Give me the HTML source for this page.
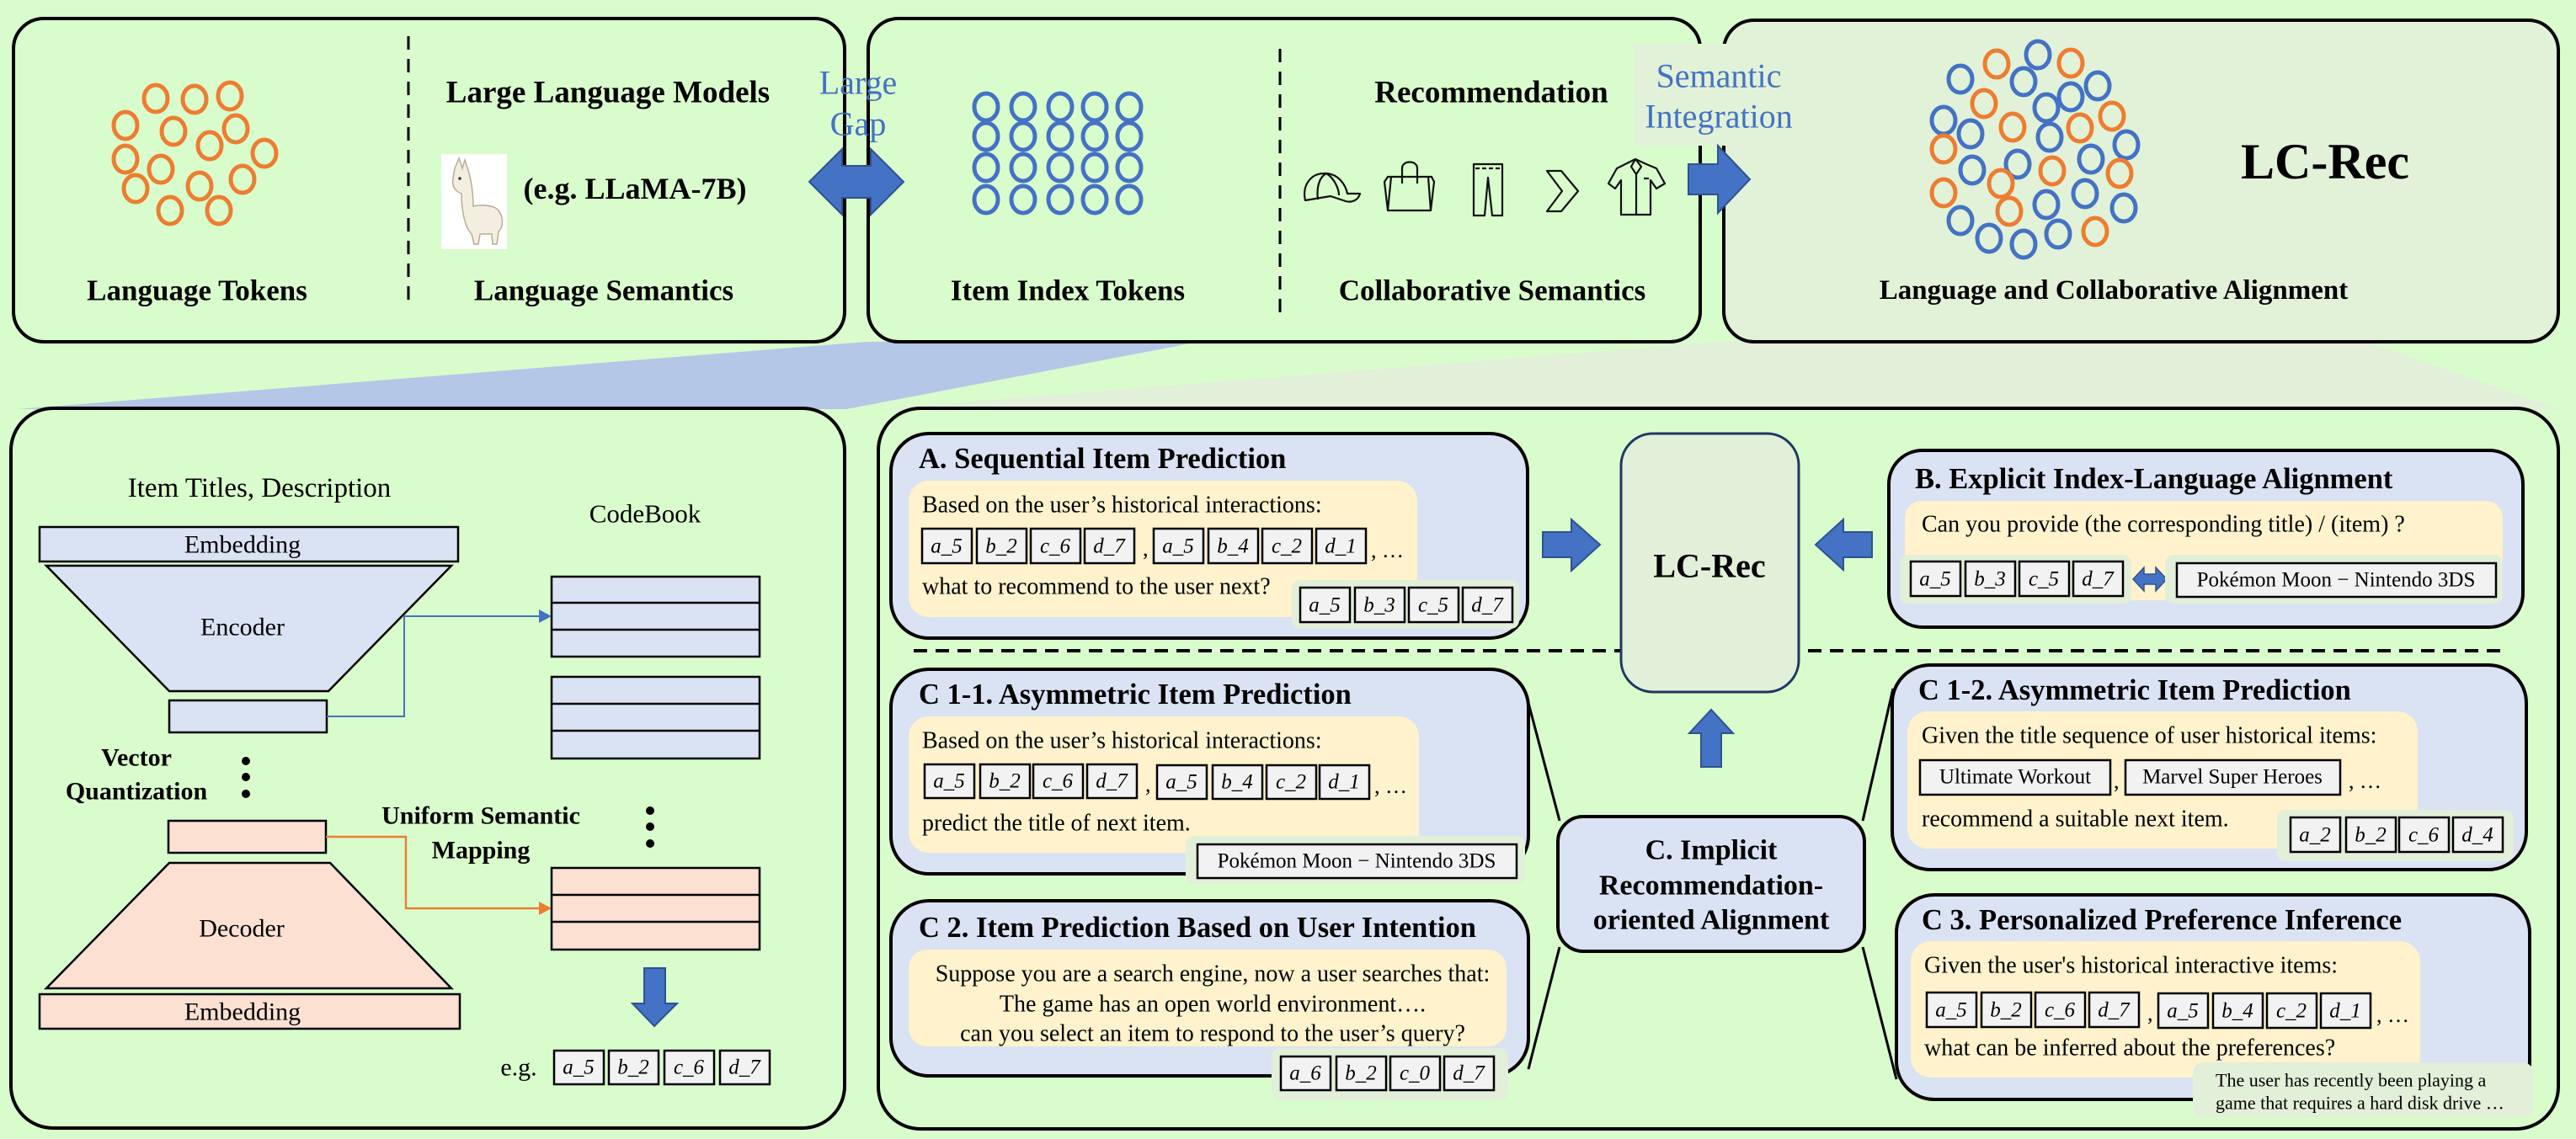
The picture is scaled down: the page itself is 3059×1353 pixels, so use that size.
<!DOCTYPE html>
<html><head><meta charset="utf-8"><style>
html,body{margin:0;padding:0;background:#d9fccc;}
svg{display:block;}
text{font-family:"Liberation Serif",serif;}
.b{font-weight:bold;}
.t{font-style:italic;font-size:25px;}
.tk{fill:#f2f2f2;stroke:#000;stroke-width:2.5;}
.or{fill:none;stroke:#ed7d31;stroke-width:5;}
.bl{fill:none;stroke:#4472c4;stroke-width:5;}
.ic{fill:none;stroke:#111;stroke-width:2.2;stroke-linejoin:round;}
</style></head><body>
<svg width="3059" height="1353" viewBox="0 0 3059 1353" xmlns="http://www.w3.org/2000/svg">
<rect width="3059" height="1353" fill="#d9fccc"/>

<polygon points="1030,406 1424,406 1005,486 20,486" fill="#b4c7e7"/>
<polygon points="2045,406 2810,406 3040,486 1040,486" fill="#e2efd9"/>

<rect x="16" y="22" width="987" height="384" rx="36" fill="#d9fccc" stroke="#000" stroke-width="4"/>
<rect x="1031" y="22" width="988" height="384" rx="36" fill="#d9fccc" stroke="#000" stroke-width="4"/>
<rect x="2047" y="24" width="991" height="382" rx="36" fill="#e2f2d8" stroke="#000" stroke-width="4"/>
<line x1="485" y1="43" x2="485" y2="358" stroke="#000" stroke-width="3" stroke-dasharray="16,11"/>
<line x1="1520" y1="58" x2="1520" y2="372" stroke="#000" stroke-width="3" stroke-dasharray="16,11"/>

<g class="or">
<ellipse cx="185" cy="117" rx="14" ry="16"/><ellipse cx="231" cy="118" rx="14" ry="16"/><ellipse cx="273" cy="114" rx="14" ry="16"/>
<ellipse cx="149" cy="149" rx="14" ry="16"/><ellipse cx="206" cy="156" rx="14" ry="16"/><ellipse cx="280" cy="153" rx="14" ry="16"/>
<ellipse cx="249" cy="173" rx="14" ry="16"/><ellipse cx="314" cy="182" rx="14" ry="16"/>
<ellipse cx="149" cy="189" rx="14" ry="16"/><ellipse cx="191" cy="201" rx="14" ry="16"/><ellipse cx="288" cy="213" rx="14" ry="16"/>
<ellipse cx="161" cy="224" rx="14" ry="16"/><ellipse cx="237" cy="221" rx="14" ry="16"/>
<ellipse cx="202" cy="250" rx="14" ry="16"/><ellipse cx="260" cy="250" rx="14" ry="16"/>
</g>
<text x="234" y="345" class="b" font-size="35" text-anchor="middle" dominant-baseline="central">Language Tokens</text>
<text x="722" y="110" class="b" font-size="37" text-anchor="middle" dominant-baseline="central">Large Language Models</text>
<rect x="524" y="183" width="78" height="113" fill="#fff"/>
<path d="M540,200 L545,188 L549,200 L552,190 L556,202 C560,215 562,232 562,245 C575,242 588,245 592,250 C598,258 598,270 592,275 L590,290 L585,290 L584,278 L570,278 L568,290 L563,290 L560,278 C552,270 548,250 548,230 C542,228 536,222 538,212 Z" fill="#f4eee0" stroke="#b9ad96" stroke-width="1.5"/>
<circle cx="546" cy="212" r="1.8" fill="#333"/>
<text x="754" y="224" class="b" font-size="36" text-anchor="middle" dominant-baseline="central">(e.g. LLaMA-7B)</text>
<text x="717" y="345" class="b" font-size="35" text-anchor="middle" dominant-baseline="central">Language Semantics</text>

<text x="1019" y="98" font-size="40" fill="#4472c4" text-anchor="middle" dominant-baseline="central">Large</text>
<text x="1019" y="147" font-size="40" fill="#4472c4" text-anchor="middle" dominant-baseline="central">Gap</text>
<polygon points="961,216 1000,177 1000,197 1034,197 1034,177 1073,216 1034,255 1034,235 1000,235 1000,255" fill="#4472c4" stroke="#2f528f" stroke-width="2"/>

<g class="bl">
<ellipse cx="1171" cy="127" rx="14" ry="16"/><ellipse cx="1215" cy="127" rx="14" ry="16"/><ellipse cx="1259" cy="127" rx="14" ry="16"/><ellipse cx="1300" cy="127" rx="14" ry="16"/><ellipse cx="1341" cy="127" rx="14" ry="16"/>
<ellipse cx="1171" cy="162" rx="14" ry="16"/><ellipse cx="1215" cy="162" rx="14" ry="16"/><ellipse cx="1259" cy="162" rx="14" ry="16"/><ellipse cx="1300" cy="162" rx="14" ry="16"/><ellipse cx="1341" cy="162" rx="14" ry="16"/>
<ellipse cx="1171" cy="199" rx="14" ry="16"/><ellipse cx="1215" cy="199" rx="14" ry="16"/><ellipse cx="1259" cy="199" rx="14" ry="16"/><ellipse cx="1300" cy="199" rx="14" ry="16"/><ellipse cx="1341" cy="199" rx="14" ry="16"/>
<ellipse cx="1171" cy="237" rx="14" ry="16"/><ellipse cx="1215" cy="237" rx="14" ry="16"/><ellipse cx="1259" cy="237" rx="14" ry="16"/><ellipse cx="1300" cy="237" rx="14" ry="16"/><ellipse cx="1341" cy="237" rx="14" ry="16"/>
</g>
<text x="1268" y="345" class="b" font-size="35" text-anchor="middle" dominant-baseline="central">Item Index Tokens</text>
<text x="1771" y="110" class="b" font-size="37" text-anchor="middle" dominant-baseline="central">Recommendation</text>
<text x="1772" y="345" class="b" font-size="35" text-anchor="middle" dominant-baseline="central">Collaborative Semantics</text>
<g class="ic">
<path d="M1550,238 C1546,222 1555,205 1575,206 C1590,207 1598,220 1600,230 L1615,230 C1613,238 1605,241 1598,239 L1580,233 Z"/>
<path d="M1565,237 C1563,222 1567,210 1575,206 M1575,206 C1585,212 1590,225 1590,232"/>
<path d="M1648,210 L1700,210 L1703,216 L1699,250 L1648,250 L1644,216 Z M1665,218 L1665,200 C1665,190 1683,190 1683,200 L1683,218 M1652,210 L1648,250 M1696,210 L1699,250"/>
<path d="M1750,195 L1784,195 L1784,256 L1772,256 L1767,211 L1763,256 L1750,256 Z"/>
<line x1="1752" y1="200" x2="1782" y2="200" stroke-dasharray="5,3"/>
<path d="M1837,203 L1854,203 L1874,227 L1854,251 L1837,251 L1855,227 Z"/>
<path d="M1930,195 L1942,189 L1955,195 L1967,200 L1977,218 L1967,224 L1960,214 L1960,255 L1925,255 L1925,214 L1918,224 L1910,218 L1920,200 Z M1942,189 L1937,198 L1943,207 L1949,198 Z M1943,207 L1943,255 M1952,212 L1958,212"/>
</g>

<rect x="1940" y="52" width="222" height="121" fill="#e2f2d8"/>
<text x="2041" y="90" font-size="40" fill="#4472c4" text-anchor="middle" dominant-baseline="central">Semantic</text>
<text x="2041" y="138" font-size="40" fill="#4472c4" text-anchor="middle" dominant-baseline="central">Integration</text>
<polygon points="2005,195 2040,195 2040,173 2078,213 2040,253 2040,231 2005,231" fill="#4472c4" stroke="#2f528f" stroke-width="2"/>

<g class="bl">
<ellipse cx="2420" cy="65" rx="14" ry="16"/><ellipse cx="2328" cy="94" rx="14" ry="16"/><ellipse cx="2403" cy="97" rx="14" ry="16"/><ellipse cx="2491" cy="102" rx="14" ry="16"/>
<ellipse cx="2459" cy="115" rx="14" ry="16"/><ellipse cx="2430" cy="128" rx="14" ry="16"/><ellipse cx="2308" cy="143" rx="14" ry="16"/><ellipse cx="2340" cy="159" rx="14" ry="16"/>
<ellipse cx="2434" cy="163" rx="14" ry="16"/><ellipse cx="2525" cy="172" rx="14" ry="16"/><ellipse cx="2396" cy="195" rx="14" ry="16"/><ellipse cx="2483" cy="189" rx="14" ry="16"/>
<ellipse cx="2342" cy="202" rx="14" ry="16"/><ellipse cx="2476" cy="230" rx="14" ry="16"/><ellipse cx="2430" cy="243" rx="14" ry="16"/><ellipse cx="2522" cy="247" rx="14" ry="16"/>
<ellipse cx="2328" cy="262" rx="14" ry="16"/><ellipse cx="2444" cy="278" rx="14" ry="16"/><ellipse cx="2362" cy="283" rx="14" ry="16"/><ellipse cx="2403" cy="290" rx="14" ry="16"/>
</g>
<g class="or">
<ellipse cx="2371" cy="76" rx="14" ry="16"/><ellipse cx="2459" cy="75" rx="14" ry="16"/><ellipse cx="2356" cy="123" rx="14" ry="16"/><ellipse cx="2508" cy="138" rx="14" ry="16"/>
<ellipse cx="2390" cy="151" rx="14" ry="16"/><ellipse cx="2470" cy="152" rx="14" ry="16"/><ellipse cx="2308" cy="177" rx="14" ry="16"/><ellipse cx="2437" cy="203" rx="14" ry="16"/>
<ellipse cx="2517" cy="206" rx="14" ry="16"/><ellipse cx="2376" cy="218" rx="14" ry="16"/><ellipse cx="2308" cy="229" rx="14" ry="16"/><ellipse cx="2386" cy="251" rx="14" ry="16"/>
<ellipse cx="2488" cy="275" rx="14" ry="16"/>
</g>
<text x="2761" y="192" class="b" font-size="60" text-anchor="middle" dominant-baseline="central">LC-Rec</text>
<text x="2510" y="345" class="b" font-size="33" text-anchor="middle" dominant-baseline="central">Language and Collaborative Alignment</text>

<!-- bottom left -->
<rect x="13" y="485" width="990" height="855" rx="50" fill="#d9fccc" stroke="#000" stroke-width="4"/>
<text x="308" y="580" font-size="33" text-anchor="middle" dominant-baseline="central">Item Titles, Description</text>
<rect x="47" y="626" width="497" height="41" fill="#dae3f3" stroke="#000" stroke-width="2.5"/>
<text x="288" y="647" font-size="30" text-anchor="middle" dominant-baseline="central">Embedding</text>
<polygon points="55,672 536,672 390,821 201,821" fill="#dae3f3" stroke="#000" stroke-width="2.5"/>
<text x="288" y="745" font-size="30" text-anchor="middle" dominant-baseline="central">Encoder</text>
<rect x="201" y="832" width="187" height="38" fill="#dae3f3" stroke="#000" stroke-width="2.5"/>
<text x="766" y="610" font-size="31" text-anchor="middle" dominant-baseline="central">CodeBook</text>
<rect x="655" y="685" width="247" height="95" fill="#dae3f3" stroke="#000" stroke-width="2.5"/>
<line x1="655" y1="716" x2="902" y2="716" stroke="#000" stroke-width="2.5"/><line x1="655" y1="748" x2="902" y2="748" stroke="#000" stroke-width="2.5"/>
<rect x="655" y="804" width="247" height="97" fill="#dae3f3" stroke="#000" stroke-width="2.5"/>
<line x1="655" y1="836" x2="902" y2="836" stroke="#000" stroke-width="2.5"/><line x1="655" y1="868" x2="902" y2="868" stroke="#000" stroke-width="2.5"/>
<polyline points="388,851 480,851 480,732 642,732" fill="none" stroke="#4472c4" stroke-width="2"/>
<polygon points="640,724 655,732 640,740" fill="#4472c4"/>
<g fill="#000"><circle cx="292" cy="904" r="5"/><circle cx="292" cy="923" r="5"/><circle cx="292" cy="943" r="5"/>
<circle cx="772" cy="963" r="5"/><circle cx="772" cy="982" r="5"/><circle cx="772" cy="1002" r="5"/></g>
<text x="162" y="900" class="b" font-size="30" text-anchor="middle" dominant-baseline="central">Vector</text>
<text x="162" y="940" class="b" font-size="30" text-anchor="middle" dominant-baseline="central">Quantization</text>
<text x="571" y="969" class="b" font-size="30" text-anchor="middle" dominant-baseline="central">Uniform Semantic</text>
<text x="571" y="1010" class="b" font-size="30" text-anchor="middle" dominant-baseline="central">Mapping</text>
<rect x="200" y="975" width="187" height="38" fill="#fce0d2" stroke="#000" stroke-width="2.5"/>
<polygon points="201,1025 392,1025 536,1174 55,1174" fill="#fce0d2" stroke="#000" stroke-width="2.5"/>
<text x="287" y="1103" font-size="30" text-anchor="middle" dominant-baseline="central">Decoder</text>
<rect x="47" y="1181" width="499" height="41" fill="#fce0d2" stroke="#000" stroke-width="2.5"/>
<text x="288" y="1202" font-size="30" text-anchor="middle" dominant-baseline="central">Embedding</text>
<polyline points="387,994 482,994 482,1079 642,1079" fill="none" stroke="#ed7d31" stroke-width="2.5"/>
<polygon points="640,1071 655,1079 640,1087" fill="#ed7d31"/>
<rect x="655" y="1031" width="247" height="97" fill="#fce0d2" stroke="#000" stroke-width="2.5"/>
<line x1="655" y1="1063" x2="902" y2="1063" stroke="#000" stroke-width="2.5"/><line x1="655" y1="1095" x2="902" y2="1095" stroke="#000" stroke-width="2.5"/>
<polygon points="765,1150 790,1150 790,1192 804,1192 777,1219 751,1192 765,1192" fill="#4472c4" stroke="#2f528f" stroke-width="2"/>
<text x="616" y="1268" font-size="30" text-anchor="middle" dominant-baseline="central">e.g.</text>
<rect class="tk" x="658" y="1248" width="59" height="40"/><text class="t" x="687" y="1268" text-anchor="middle" dominant-baseline="central">a_5</text>
<rect class="tk" x="723" y="1248" width="59" height="40"/><text class="t" x="752" y="1268" text-anchor="middle" dominant-baseline="central">b_2</text>
<rect class="tk" x="789" y="1248" width="59" height="40"/><text class="t" x="818" y="1268" text-anchor="middle" dominant-baseline="central">c_6</text>
<rect class="tk" x="855" y="1248" width="59" height="40"/><text class="t" x="884" y="1268" text-anchor="middle" dominant-baseline="central">d_7</text>

<!-- bottom right -->
<rect x="1043" y="485" width="1995" height="856" rx="50" fill="#d9fccc" stroke="#000" stroke-width="4"/>
<line x1="1085" y1="773" x2="1925" y2="773" stroke="#000" stroke-width="4" stroke-dasharray="16,10"/>
<line x1="2147" y1="773" x2="2970" y2="773" stroke="#000" stroke-width="4" stroke-dasharray="16,10"/>

<g stroke="#000" stroke-width="3" fill="none">
<line x1="1815" y1="835" x2="1852" y2="975"/>
<line x1="1852" y1="1125" x2="1815" y2="1270"/>
<line x1="2212" y1="975" x2="2248" y2="818"/>
<line x1="2212" y1="1125" x2="2252" y2="1282"/>
</g>

<rect x="1058" y="515" width="756" height="243" rx="45" fill="#dae3f3" stroke="#000" stroke-width="4"/>
<text x="1091" y="545" class="b" font-size="34.5" dominant-baseline="central">A. Sequential Item Prediction</text>
<rect x="1079" y="571" width="604" height="162" rx="24" fill="#fff2cc"/>
<text x="1095" y="600" font-size="28" dominant-baseline="central">Based on the user’s historical interactions:</text>
<rect class="tk" x="1095" y="628" width="59" height="41"/><text class="t" x="1124" y="649" text-anchor="middle" dominant-baseline="central">a_5</text>
<rect class="tk" x="1160" y="628" width="59" height="41"/><text class="t" x="1189" y="649" text-anchor="middle" dominant-baseline="central">b_2</text>
<rect class="tk" x="1224" y="628" width="59" height="41"/><text class="t" x="1253" y="649" text-anchor="middle" dominant-baseline="central">c_6</text>
<rect class="tk" x="1288" y="628" width="59" height="41"/><text class="t" x="1317" y="649" text-anchor="middle" dominant-baseline="central">d_7</text>
<text x="1357" y="660" font-size="26">,</text>
<rect class="tk" x="1370" y="628" width="59" height="41"/><text class="t" x="1399" y="649" text-anchor="middle" dominant-baseline="central">a_5</text>
<rect class="tk" x="1435" y="628" width="59" height="41"/><text class="t" x="1464" y="649" text-anchor="middle" dominant-baseline="central">b_4</text>
<rect class="tk" x="1499" y="628" width="59" height="41"/><text class="t" x="1528" y="649" text-anchor="middle" dominant-baseline="central">c_2</text>
<rect class="tk" x="1563" y="628" width="59" height="41"/><text class="t" x="1592" y="649" text-anchor="middle" dominant-baseline="central">d_1</text>
<text x="1628" y="662" font-size="26">, …</text>
<text x="1095" y="697" font-size="28" dominant-baseline="central">what to recommend to the user next?</text>
<rect x="1534" y="689" width="270" height="58" rx="10" fill="#e2efd9"/>
<rect class="tk" x="1544" y="698" width="59" height="41"/><text class="t" x="1573" y="719" text-anchor="middle" dominant-baseline="central">a_5</text>
<rect class="tk" x="1609" y="698" width="59" height="41"/><text class="t" x="1638" y="719" text-anchor="middle" dominant-baseline="central">b_3</text>
<rect class="tk" x="1673" y="698" width="59" height="41"/><text class="t" x="1702" y="719" text-anchor="middle" dominant-baseline="central">c_5</text>
<rect class="tk" x="1737" y="698" width="59" height="41"/><text class="t" x="1766" y="719" text-anchor="middle" dominant-baseline="central">d_7</text>
<polygon points="1832,632 1866,632 1866,617 1900,647 1866,678 1866,662 1832,662" fill="#4472c4" stroke="#2f528f" stroke-width="2"/>

<rect x="1925" y="515" width="211" height="307" rx="38" fill="#e2efd9" stroke="#1f3864" stroke-width="3"/>
<text x="2030" y="672" class="b" font-size="40" text-anchor="middle" dominant-baseline="central">LC-Rec</text>
<polygon points="2223,632 2189,632 2189,617 2156,647 2189,677 2189,662 2223,662" fill="#4472c4" stroke="#2f528f" stroke-width="2"/>
<polygon points="2020,911 2044,911 2044,871 2058,871 2032,843 2006,871 2020,871" fill="#4472c4" stroke="#2f528f" stroke-width="2"/>

<rect x="2243" y="535" width="753" height="210" rx="40" fill="#dae3f3" stroke="#000" stroke-width="4"/>
<text x="2274" y="569" class="b" font-size="34.5" dominant-baseline="central">B. Explicit Index-Language Alignment</text>
<rect x="2262" y="595" width="710" height="118" rx="20" fill="#fff2cc"/>
<text x="2282" y="623" font-size="28" dominant-baseline="central">Can you provide (the corresponding title) / (item) ?</text>
<rect x="2256" y="659" width="275" height="58" rx="10" fill="#e2efd9"/>
<rect class="tk" x="2269" y="667" width="59" height="41"/><text class="t" x="2298" y="688" text-anchor="middle" dominant-baseline="central">a_5</text>
<rect class="tk" x="2334" y="667" width="59" height="41"/><text class="t" x="2363" y="688" text-anchor="middle" dominant-baseline="central">b_3</text>
<rect class="tk" x="2398" y="667" width="59" height="41"/><text class="t" x="2427" y="688" text-anchor="middle" dominant-baseline="central">c_5</text>
<rect class="tk" x="2462" y="667" width="59" height="41"/><text class="t" x="2491" y="688" text-anchor="middle" dominant-baseline="central">d_7</text>
<polygon points="2533,688 2546,674 2546,682 2560,682 2560,674 2573,688 2560,702 2560,694 2546,694 2546,702" fill="#4472c4" stroke="#2f528f" stroke-width="1.5"/>
<rect x="2571" y="659" width="401" height="58" rx="10" fill="#e2efd9"/>
<rect class="tk" x="2585" y="669" width="379" height="40"/>
<text x="2774" y="689" font-size="25" text-anchor="middle" dominant-baseline="central">Pokémon Moon − Nintendo 3DS</text>

<rect x="1058" y="795" width="757" height="243" rx="45" fill="#dae3f3" stroke="#000" stroke-width="4"/>
<text x="1091" y="825" class="b" font-size="34.5" dominant-baseline="central">C 1-1. Asymmetric Item Prediction</text>
<rect x="1079" y="851" width="606" height="162" rx="24" fill="#fff2cc"/>
<text x="1095" y="880" font-size="28" dominant-baseline="central">Based on the user’s historical interactions:</text>
<rect class="tk" x="1098" y="908" width="59" height="40"/><text class="t" x="1127" y="928" text-anchor="middle" dominant-baseline="central">a_5</text>
<rect class="tk" x="1164" y="908" width="59" height="40"/><text class="t" x="1193" y="928" text-anchor="middle" dominant-baseline="central">b_2</text>
<rect class="tk" x="1227" y="908" width="59" height="40"/><text class="t" x="1256" y="928" text-anchor="middle" dominant-baseline="central">c_6</text>
<rect class="tk" x="1291" y="908" width="59" height="40"/><text class="t" x="1320" y="928" text-anchor="middle" dominant-baseline="central">d_7</text>
<text x="1360" y="940" font-size="26">,</text>
<rect class="tk" x="1374" y="909" width="59" height="40"/><text class="t" x="1403" y="929" text-anchor="middle" dominant-baseline="central">a_5</text>
<rect class="tk" x="1440" y="909" width="59" height="40"/><text class="t" x="1469" y="929" text-anchor="middle" dominant-baseline="central">b_4</text>
<rect class="tk" x="1504" y="909" width="59" height="40"/><text class="t" x="1533" y="929" text-anchor="middle" dominant-baseline="central">c_2</text>
<rect class="tk" x="1567" y="909" width="59" height="40"/><text class="t" x="1596" y="929" text-anchor="middle" dominant-baseline="central">d_1</text>
<text x="1632" y="942" font-size="26">, …</text>
<text x="1095" y="978" font-size="28" dominant-baseline="central">predict the title of next item.</text>
<rect x="1408" y="993" width="403" height="57" rx="10" fill="#e2efd9"/>
<rect class="tk" x="1422" y="1003" width="379" height="40"/>
<text x="1611" y="1023" font-size="25" text-anchor="middle" dominant-baseline="central">Pokémon Moon − Nintendo 3DS</text>

<rect x="1058" y="1070" width="757" height="208" rx="45" fill="#dae3f3" stroke="#000" stroke-width="4"/>
<text x="1091" y="1102" class="b" font-size="34.5" dominant-baseline="central">C 2. Item Prediction Based on User Intention</text>
<rect x="1079" y="1128" width="710" height="115" rx="22" fill="#fff2cc"/>
<text x="1440" y="1157" font-size="28" text-anchor="middle" dominant-baseline="central">Suppose you are a search engine, now a user searches that:</text>
<text x="1440" y="1193" font-size="28" text-anchor="middle" dominant-baseline="central">The game has an open world environment….</text>
<text x="1440" y="1228" font-size="28" text-anchor="middle" dominant-baseline="central">can you select an item to respond to the user’s query?</text>
<rect x="1510" y="1245" width="281" height="62" rx="10" fill="#e2efd9"/>
<rect class="tk" x="1521" y="1255" width="59" height="40"/><text class="t" x="1550" y="1275" text-anchor="middle" dominant-baseline="central">a_6</text>
<rect class="tk" x="1587" y="1255" width="59" height="40"/><text class="t" x="1616" y="1275" text-anchor="middle" dominant-baseline="central">b_2</text>
<rect class="tk" x="1651" y="1255" width="59" height="40"/><text class="t" x="1680" y="1275" text-anchor="middle" dominant-baseline="central">c_0</text>
<rect class="tk" x="1715" y="1255" width="59" height="40"/><text class="t" x="1744" y="1275" text-anchor="middle" dominant-baseline="central">d_7</text>

<rect x="1850" y="970" width="364" height="160" rx="30" fill="#dae3f3" stroke="#000" stroke-width="4"/>
<text x="2032" y="1010" class="b" font-size="34" text-anchor="middle" dominant-baseline="central">C. Implicit</text>
<text x="2032" y="1052" class="b" font-size="34" text-anchor="middle" dominant-baseline="central">Recommendation-</text>
<text x="2032" y="1093" class="b" font-size="34" text-anchor="middle" dominant-baseline="central">oriented Alignment</text>

<rect x="2247" y="790" width="753" height="243" rx="45" fill="#dae3f3" stroke="#000" stroke-width="4"/>
<text x="2278" y="820" class="b" font-size="34.5" dominant-baseline="central">C 1-2. Asymmetric Item Prediction</text>
<rect x="2265" y="845" width="606" height="163" rx="24" fill="#fff2cc"/>
<text x="2282" y="874" font-size="28" dominant-baseline="central">Given the title sequence of user historical items:</text>
<rect class="tk" x="2280" y="903" width="226" height="41"/>
<text x="2393" y="923" font-size="25" text-anchor="middle" dominant-baseline="central">Ultimate Workout</text>
<text x="2510" y="936" font-size="26">,</text>
<rect class="tk" x="2524" y="903" width="255" height="41"/>
<text x="2651" y="923" font-size="25" text-anchor="middle" dominant-baseline="central">Marvel Super Heroes</text>
<text x="2789" y="936" font-size="26">, …</text>
<text x="2282" y="973" font-size="28" dominant-baseline="central">recommend a suitable next item.</text>
<rect x="2704" y="962" width="281" height="61" rx="10" fill="#e2efd9"/>
<rect class="tk" x="2720" y="971" width="59" height="41"/><text class="t" x="2749" y="992" text-anchor="middle" dominant-baseline="central">a_2</text>
<rect class="tk" x="2786" y="971" width="59" height="41"/><text class="t" x="2815" y="992" text-anchor="middle" dominant-baseline="central">b_2</text>
<rect class="tk" x="2849" y="971" width="59" height="41"/><text class="t" x="2878" y="992" text-anchor="middle" dominant-baseline="central">c_6</text>
<rect class="tk" x="2913" y="971" width="59" height="41"/><text class="t" x="2942" y="992" text-anchor="middle" dominant-baseline="central">d_4</text>

<rect x="2252" y="1063" width="752" height="243" rx="45" fill="#dae3f3" stroke="#000" stroke-width="4"/>
<text x="2282" y="1093" class="b" font-size="34.5" dominant-baseline="central">C 3. Personalized Preference Inference</text>
<rect x="2269" y="1118" width="605" height="162" rx="24" fill="#fff2cc"/>
<text x="2285" y="1147" font-size="28" dominant-baseline="central">Given the user's historical interactive items:</text>
<rect class="tk" x="2288" y="1179" width="59" height="41"/><text class="t" x="2317" y="1200" text-anchor="middle" dominant-baseline="central">a_5</text>
<rect class="tk" x="2353" y="1179" width="59" height="41"/><text class="t" x="2382" y="1200" text-anchor="middle" dominant-baseline="central">b_2</text>
<rect class="tk" x="2417" y="1179" width="59" height="41"/><text class="t" x="2446" y="1200" text-anchor="middle" dominant-baseline="central">c_6</text>
<rect class="tk" x="2481" y="1179" width="59" height="41"/><text class="t" x="2510" y="1200" text-anchor="middle" dominant-baseline="central">d_7</text>
<text x="2550" y="1212" font-size="26">,</text>
<rect class="tk" x="2563" y="1180" width="59" height="41"/><text class="t" x="2592" y="1201" text-anchor="middle" dominant-baseline="central">a_5</text>
<rect class="tk" x="2628" y="1180" width="59" height="41"/><text class="t" x="2657" y="1201" text-anchor="middle" dominant-baseline="central">b_4</text>
<rect class="tk" x="2692" y="1180" width="59" height="41"/><text class="t" x="2721" y="1201" text-anchor="middle" dominant-baseline="central">c_2</text>
<rect class="tk" x="2756" y="1180" width="59" height="41"/><text class="t" x="2785" y="1201" text-anchor="middle" dominant-baseline="central">d_1</text>
<text x="2822" y="1214" font-size="26">, …</text>
<text x="2285" y="1245" font-size="28" dominant-baseline="central">what can be inferred about the preferences?</text>
<rect x="2604" y="1262" width="404" height="65" rx="12" fill="#e2efd9"/>
<text x="2631" y="1283" font-size="22" dominant-baseline="central">The user has recently been playing a</text>
<text x="2631" y="1310" font-size="22" dominant-baseline="central">game that requires a hard disk drive …</text>
</svg>
</body></html>
